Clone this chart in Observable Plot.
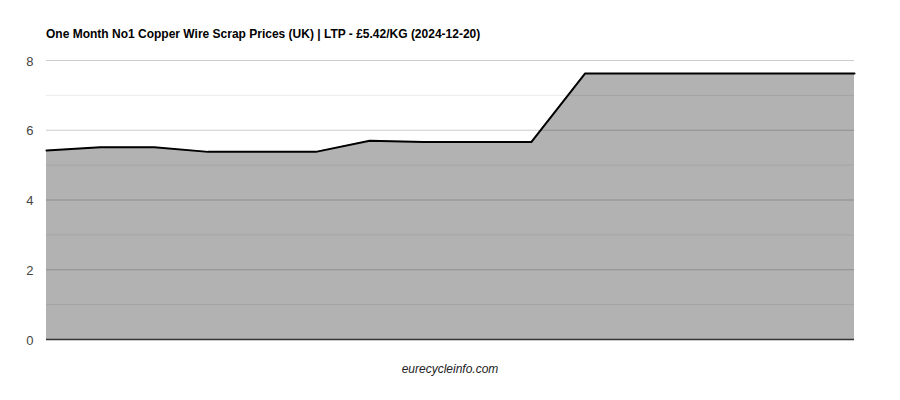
<!DOCTYPE html>
<html>
<head>
<meta charset="utf-8">
<script src="https://cdn.jsdelivr.net/npm/d3@7"></script>
<script src="https://cdn.jsdelivr.net/npm/@observablehq/plot@0.6"></script>
<style>
  html, body { margin: 0; padding: 0; background: #fff; }
  #wrap { position: relative; width: 900px; height: 400px; font-family: "Liberation Sans", Arial, sans-serif; }
  #title { position: absolute; left: 46px; top: 27px; font-size: 12px; font-weight: bold; color: #000; white-space: nowrap; }
  #caption { position: absolute; left: 0; width: 900px; top: 362px; text-align: center; font-size: 12px; font-style: italic; color: #222; }
  #chart { position: absolute; left: 0; top: 0; }
</style>
</head>
<body>
<div id="wrap">
  <div id="chart"></div>
  <div id="title">One Month No1 Copper Wire Scrap Prices (UK) | LTP - £5.42/KG (2024-12-20)</div>
  <div id="caption">eurecycleinfo.com</div>
</div>
<script>
// Data (index 0 = latest, 2024-12-20, drawn at left)
const pointIndex = [0, 1, 2, 3, 4, 5, 6, 7, 8, 9, 10, 11, 12, 13, 14, 15];
const prices = [5.42, 5.51, 5.51, 5.38, 5.38, 5.38, 5.70, 5.66, 5.66, 5.66, 7.63, 7.63, 7.63, 7.63, 7.63, 7.63];
const majorTicks = [0, 2, 4, 6, 8];
const minorTicks = [1, 3, 5, 7];

const data = pointIndex.map((i, k) => ({i, v: prices[k]}));

const chart = Plot.plot({
  width: 900,
  height: 400,
  marginLeft: 46,
  marginRight: 46,
  marginTop: 60,
  marginBottom: 61,
  style: {fontFamily: "'Liberation Sans', Arial, sans-serif", fontSize: "13px", background: "transparent"},
  x: {domain: [0, 15], axis: null},
  y: {domain: [0, 8], ticks: majorTicks, tickSize: 0, tickPadding: 13, label: null},
  marks: [
    Plot.ruleY(minorTicks, {stroke: "#ebebeb", strokeWidth: 1}),
    Plot.ruleY(majorTicks.filter(d => d !== 0), {stroke: "#cccccc", strokeWidth: 1}),
    Plot.areaY(data, {x: "i", y: "v", fill: "#000", fillOpacity: 0.3}),
    Plot.lineY(data, {x: "i", y: "v", stroke: "#000", strokeWidth: 2}),
    Plot.ruleY([0], {stroke: "#333", strokeWidth: 1.5}),
    Plot.axisY({ticks: majorTicks, tickSize: 0, tickPadding: 13, label: null, color: "#444", dy: 1})
  ]
});
document.getElementById("chart").appendChild(chart);
</script>
</body>
</html>
